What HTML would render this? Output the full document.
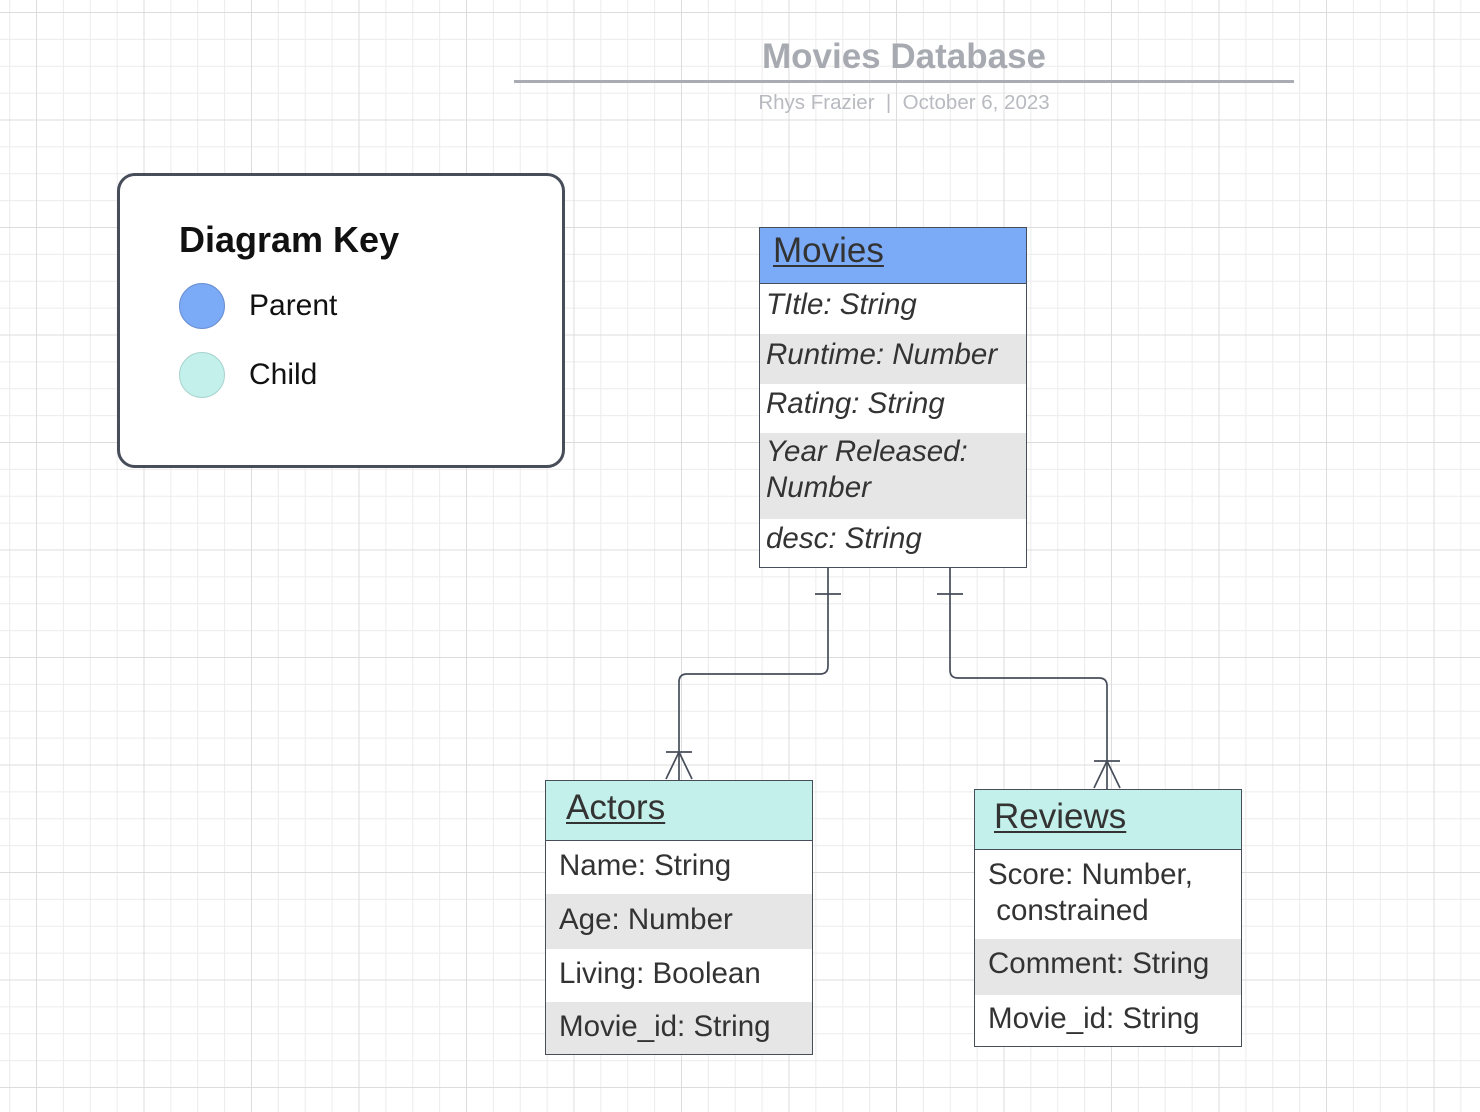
<!DOCTYPE html>
<html><head><meta charset="utf-8"><style>
*{margin:0;padding:0;box-sizing:border-box}
body{width:1480px;height:1112px;position:relative;overflow:hidden;background:#fff;font-family:"Liberation Sans",sans-serif;color:#333}
.grid{position:absolute;inset:0;
background-image:
linear-gradient(to right,#dcdcdc 1px,transparent 1px),
linear-gradient(to bottom,#dcdcdc 1px,transparent 1px),
linear-gradient(to right,#ececec 1px,transparent 1px),
linear-gradient(to bottom,#ececec 1px,transparent 1px);
background-size:107.5px 107.5px,107.5px 107.5px,26.875px 26.875px,26.875px 26.875px;
background-position:36px 12px,36px 12px,36px 12px,36px 12px}
.a{position:absolute}
.tbl{position:absolute;border:1.5px solid #474e5a;overflow:hidden}
.row{position:absolute;left:0;right:0;font-size:29.5px;white-space:nowrap}
.hdr{font-size:35px;text-decoration:underline;text-decoration-thickness:2px;text-underline-offset:3px}
.g{background:#e6e6e6}
.it{font-style:italic}
</style></head><body>
<div class="grid"></div>
<div class="a" style="left:514px;top:37px;width:780px;text-align:center;font-size:35px;font-weight:bold;color:#a7aab1">Movies Database</div>
<div class="a" style="left:514px;top:80px;width:780px;height:3px;background:#a9acb3"></div>
<div class="a" style="left:514px;top:91px;width:780px;text-align:center;font-size:20.5px;color:#b8bac0">Rhys Frazier &nbsp;|&nbsp; October 6, 2023</div>

<div class="a" style="left:117px;top:173px;width:448px;height:295px;border:3px solid #474e5a;border-radius:18px;background:#fff"></div>
<div class="a" style="left:179px;top:219px;font-size:36px;font-weight:bold;color:#111">Diagram Key</div>
<div class="a" style="left:179px;top:283px;width:46px;height:46px;border-radius:50%;background:#7baaf7;border:1px solid #6a8fd0"></div>
<div class="a" style="left:249px;top:289px;font-size:30px;color:#111">Parent</div>
<div class="a" style="left:179px;top:352px;width:46px;height:46px;border-radius:50%;background:#c3f0ea;border:1px solid #a8d4ce"></div>
<div class="a" style="left:249px;top:358px;font-size:30px;color:#111">Child</div>

<div class="tbl" style="left:759px;top:227px;width:268px;height:341px;background:#fff">
<div class="row hdr" style="top:0;height:56px;background:#7baaf7;border-bottom:1.5px solid #474e5a;padding:3px 0 0 13px">Movies</div>
<div class="row it" style="top:56px;height:50px;padding:4px 0 0 6px">TItle: String</div>
<div class="row it g" style="top:106px;height:50px;padding:4px 0 0 6px">Runtime: Number</div>
<div class="row it" style="top:156px;height:49px;padding:3px 0 0 6px">Rating: String</div>
<div class="row it g" style="top:205px;height:86px;padding:1px 0 0 6px;white-space:normal;line-height:36px">Year Released:<br>Number</div>
<div class="row it" style="top:291px;height:50px;padding:3px 0 0 6px">desc: String</div>
</div>

<div class="tbl" style="left:545px;top:780px;width:268px;height:275px;background:#fff">
<div class="row hdr" style="top:0;height:60px;background:#c3f0ea;border-bottom:1.5px solid #474e5a;padding:7px 0 0 20px">Actors</div>
<div class="row" style="top:60px;height:53px;padding:8px 0 0 13px">Name: String</div>
<div class="row g" style="top:113px;height:55px;padding:9px 0 0 13px">Age: Number</div>
<div class="row" style="top:168px;height:53px;padding:8px 0 0 13px">Living: Boolean</div>
<div class="row g" style="top:221px;height:54px;padding:8px 0 0 13px">Movie_id: String</div>
</div>

<div class="tbl" style="left:974px;top:789px;width:268px;height:258px;background:#fff">
<div class="row hdr" style="top:0;height:60px;background:#c3f0ea;border-bottom:1.5px solid #474e5a;padding:7px 0 0 19px">Reviews</div>
<div class="row" style="top:60px;height:89px;padding:7px 0 0 13px;line-height:36px">Score: Number,<br>&nbsp;constrained</div>
<div class="row g" style="top:149px;height:56px;padding:8px 0 0 13px">Comment: String</div>
<div class="row" style="top:205px;height:53px;padding:7px 0 0 13px">Movie_id: String</div>
</div>

<svg class="a" style="left:0;top:0" width="1480" height="1112" fill="none" stroke="#474e5a" stroke-width="1.7">
<path d="M828 568 V666 Q828 674 820 674 H687 Q679 674 679 682 V780"/>
<path d="M815 594 H841"/>
<path d="M666 752 H692 M679 752 L666 779 M679 752 L692 779"/>
<path d="M950 568 V670 Q950 678 958 678 H1099 Q1107 678 1107 686 V789"/>
<path d="M937 594 H963"/>
<path d="M1094 761 H1120 M1107 761 L1094 788 M1107 761 L1120 788"/>
</svg>
</body></html>
